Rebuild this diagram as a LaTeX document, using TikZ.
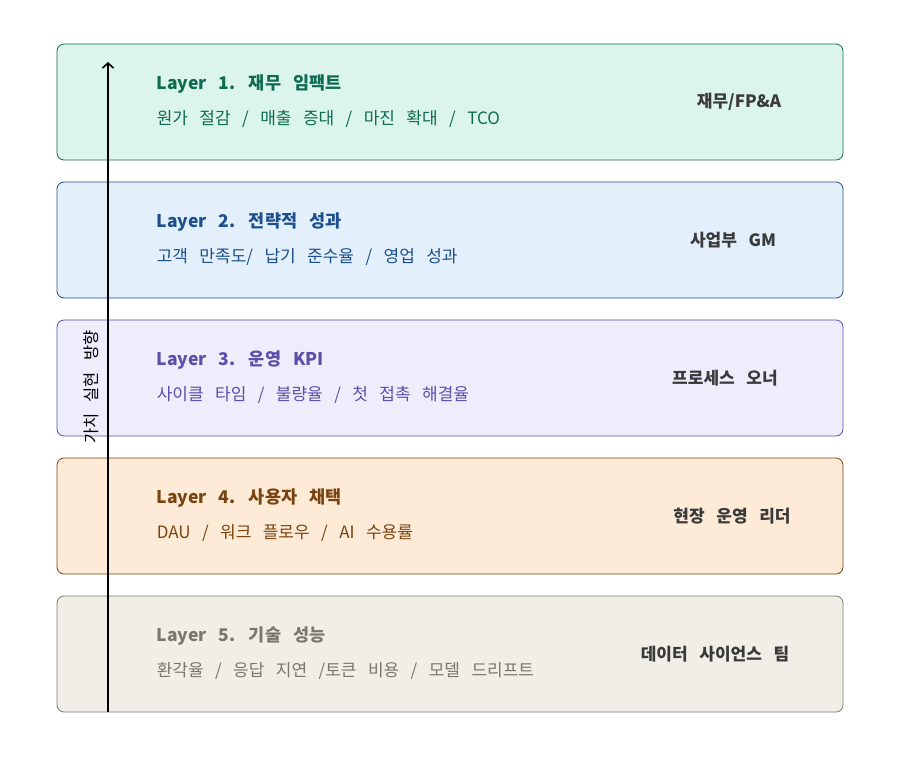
\documentclass[tikz,border=0pt]{standalone}
\usepackage{fontspec}
\setmainfont{Noto Sans CJK KR}[WordSpace=3]
\usetikzlibrary{arrows.meta,positioning}

\definecolor{finfill}{HTML}{DCF5EC}
\definecolor{finline}{HTML}{0F6B50}
\definecolor{stratfill}{HTML}{E3F0FB}
\definecolor{stratline}{HTML}{1C4F8C}
\definecolor{opsfill}{HTML}{EEEDFC}
\definecolor{opsline}{HTML}{5B4FA8}
\definecolor{userfill}{HTML}{FDEBD7}
\definecolor{userline}{HTML}{7A4410}
\definecolor{techfill}{HTML}{F1EEE7}
\definecolor{techline}{HTML}{7A776F}
\definecolor{ownertext}{HTML}{3A3A3A}

\tikzset{
  layerbox/.style={draw=#1line,fill=#1fill,line width=0.8pt,rounded corners=7pt,
                   minimum width=786pt,minimum height=116pt,inner sep=0pt},
  layertitle/.style={anchor=west,inner sep=0pt,text=#1line,font=\fontsize{17.5}{22}\selectfont\bfseries},
  layersub/.style={anchor=west,inner sep=0pt,text=#1line,font=\fontsize{17}{22}\selectfont},
  owner/.style={inner sep=0pt,text=ownertext,font=\fontsize{17}{22}\selectfont\bfseries}
}

\begin{document}
\begin{tikzpicture}[x=1pt,y=-1pt]
\useasboundingbox (0,0) rectangle (900,756);

% layers, top to bottom
\node[layerbox=fin]   (layer1) at (450,102) {};
\node[layerbox=strat] (layer2) at (450,240) {};
\node[layerbox=ops]   (layer3) at (450,378) {};
\node[layerbox=user]  (layer4) at (450,516) {};
\node[layerbox=tech]  (layer5) at (450,654) {};

% titles and metrics
\node[layertitle=fin]   (title1) at ([xshift=100pt,yshift=18pt]layer1.west) {Layer 1. 재무 임팩트};
\node[layersub=fin]     (sub1)   at ([xshift=100pt,yshift=-17pt]layer1.west) {원가 절감 / 매출 증대 / 마진 확대 / TCO};
\node[layertitle=strat] (title2) at ([xshift=100pt,yshift=18pt]layer2.west) {Layer 2. 전략적 성과};
\node[layersub=strat]   (sub2)   at ([xshift=100pt,yshift=-17pt]layer2.west) {고객 만족도/ 납기 준수율 / 영업 성과};
\node[layertitle=ops]   (title3) at ([xshift=100pt,yshift=18pt]layer3.west) {Layer 3. 운영 KPI};
\node[layersub=ops]     (sub3)   at ([xshift=100pt,yshift=-17pt]layer3.west) {사이클 타임 / 불량율 / 첫 접촉 해결율};
\node[layertitle=user]  (title4) at ([xshift=100pt,yshift=18pt]layer4.west) {Layer 4. 사용자 채택};
\node[layersub=user]    (sub4)   at ([xshift=100pt,yshift=-17pt]layer4.west) {DAU / 워크 플로우 / AI 수용률};
\node[layertitle=tech]  (title5) at ([xshift=100pt,yshift=18pt]layer5.west) {Layer 5. 기술 성능};
\node[layersub=tech]    (sub5)   at ([xshift=100pt,yshift=-17pt]layer5.west) {환각율 / 응답 지연 /토큰 비용 / 모델 드리프트};

% owners
\node[owner] (owner1) at (739,102) {재무/FP\&A};
\node[owner] (owner2) at (733,240) {사업부 GM};
\node[owner] (owner3) at (725,378) {프로세스 오너};
\node[owner] (owner4) at (732,516) {현장 운영 리더};
\node[owner] (owner5) at (715,654) {데이터 사이언스 팀};

% value direction
\coordinate (valuebase) at (108,712);
\coordinate (valuetip) at (108,62);
\draw[line width=1.6pt,-{Straight Barb[length=5pt,width=11pt,line width=1.6pt]}] (valuebase) -- (valuetip);
\node[rotate=90,inner sep=0pt,font=\fontsize{16.5}{22}\selectfont] (valuelabel) at (91,387) {가치 실현 방향};
\end{tikzpicture}
\end{document}
